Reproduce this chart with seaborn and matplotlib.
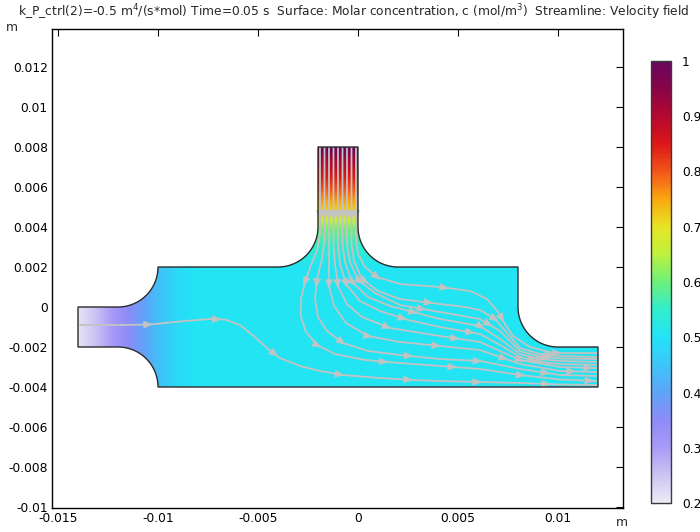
import numpy as np
import pandas as pd
import matplotlib
matplotlib.use("Agg")
import matplotlib.pyplot as plt
import seaborn as sns
from matplotlib.colors import LinearSegmentedColormap
from matplotlib.path import Path
from matplotlib.patches import PathPatch, Polygon

sns.set_theme(style="white")
plt.rcParams["font.family"] = ["DejaVu Sans"]
plt.rcParams["axes.unicode_minus"] = False

# ── data ─────────────────────────────────────────────────────────────────────

# molar concentration along the horizontal channel (x in m)
conc_x = [-0.014, -0.013, -0.012, -0.011, -0.010, -0.009, -0.008, 0.012]
conc_x_val = [0.21, 0.26, 0.32, 0.38, 0.44, 0.485, 0.505, 0.505]

# molar concentration down the vertical inlet (y in m)
conc_y = [0.002, 0.0024, 0.0031, 0.0039, 0.0044, 0.0047, 0.005, 0.0054, 0.0059, 0.0067, 0.0074, 0.008]
conc_y_val = [0.505, 0.52, 0.55, 0.60, 0.66, 0.70, 0.73, 0.76, 0.80, 0.86, 0.92, 1.0]

# colour scale
cmap_stops = [0.2, 0.25, 0.3, 0.35, 0.4, 0.45, 0.5, 0.55, 0.6, 0.65, 0.7, 0.75, 0.8, 0.85, 0.9, 0.95, 1.0]
cmap_colors = ["#ecebf6", "#cbc3f3", "#a899f6", "#8c8cf8", "#5fa4f8", "#3cc6f8", "#22e4f6",
               "#30eece", "#6ef07a", "#bdf23e", "#e8e424", "#f8a810", "#f4561a", "#dc1818",
               "#b6082e", "#8a0448", "#66065c"]

# channel outline: corners and fillet arcs (centre x, centre y, start deg, end deg)
outline = [
    ("pt", -0.014, 0.0), ("pt", -0.012, 0.0),
    ("arc", -0.012, 0.002, -90, 0),
    ("pt", -0.004, 0.002),
    ("arc", -0.004, 0.004, -90, 0),
    ("pt", -0.002, 0.008), ("pt", 0.0, 0.008), ("pt", 0.0, 0.004),
    ("arc", 0.002, 0.004, 180, 270),
    ("pt", 0.008, 0.002), ("pt", 0.008, 0.0),
    ("arc", 0.010, 0.0, 180, 270),
    ("pt", 0.012, -0.002), ("pt", 0.012, -0.004), ("pt", -0.010, -0.004),
    ("arc", -0.012, -0.004, 0, 90),
    ("pt", -0.014, -0.002),
]
FILLET_R = 0.002

# streamlines (mm)
s0_x = [-13.9, -11.9, -10.4, -8.65, -7.4, -6.65, -5.9, -5.15, -4.5, -3.9, -2.9, -1.9, -0.75, 1.1, 2.75, 4.1, 6.1, 8.1, 10.1, 11.95]
s0_y = [-0.9, -0.9, -0.875, -0.7, -0.6, -0.625, -0.9, -1.5, -2.1, -2.55, -2.95, -3.2, -3.4, -3.55, -3.65, -3.7, -3.75, -3.8, -3.875, -3.9]
s1_x = [-1.9, -1.9, -2.05, -2.35, -2.65, -2.85, -2.85, -2.6, -2.05, -1.15, 0.35, 2.1, 4.1, 6.1, 8.1, 10.1, 11.95]
s1_y = [8.0, 3.65, 2.8, 2.1, 1.25, 0.4, -0.5, -1.25, -1.9, -2.35, -2.65, -2.8, -2.95, -3.1, -3.4, -3.625, -3.7]
s2_x = [-1.675, -1.675, -1.8, -2.05, -2.15, -2.0, -1.55, -0.75, 0.5, 2.1, 4.1, 6.1, 8.1, 10.1, 11.95]
s2_y = [8.0, 3.4, 2.4, 1.4, 0.4, -0.5, -1.2, -1.8, -2.2, -2.4, -2.6, -2.7, -3.1, -3.4, -3.45]
s3_x = [-1.45, -1.45, -1.45, -1.45, -1.2, -0.6, 0.5, 2.1, 4.1, 6.1, 8.1, 10.1, 11.95]
s3_y = [8.0, 3.15, 2.15, 1.05, 0.05, -0.8, -1.45, -1.75, -1.95, -2.15, -2.85, -3.2, -3.25]
s4_x = [-1.225, -1.225, -1.15, -1.0, -0.55, 0.2, 1.6, 4.1, 6.1, 7.1, 8.1, 10.1, 11.95]
s4_y = [8.0, 3.15, 2.15, 1.05, 0.15, -0.5, -1.05, -1.45, -1.75, -2.2, -2.65, -3.0, -3.05]
s5_x = [-1.0, -1.0, -0.9, -0.6, 0.1, 1.1, 2.5, 4.1, 6.1, 7.1, 8.1, 9.1, 10.1, 11.95]
s5_y = [8.0, 3.15, 2.15, 1.15, 0.3, -0.2, -0.65, -1.0, -1.35, -1.9, -2.5, -2.75, -2.85, -2.9]
s6_x = [-0.775, -0.775, -0.65, -0.3, 0.5, 1.6, 2.95, 4.1, 6.1, 7.1, 8.1, 9.1, 10.1, 11.95]
s6_y = [8.0, 3.15, 2.25, 1.25, 0.5, 0.05, -0.3, -0.6, -0.95, -1.6, -2.35, -2.6, -2.7, -2.75]
s7_x = [-0.55, -0.55, -0.4, 0.0, 0.85, 2.1, 4.1, 6.1, 7.1, 8.1, 9.1, 10.1, 11.95]
s7_y = [8.0, 3.15, 2.25, 1.35, 0.7, 0.1, -0.25, -0.6, -1.2, -2.2, -2.475, -2.575, -2.6]
s8_x = [-0.325, -0.325, -0.2, 0.2, 1.0, 2.1, 4.1, 5.35, 6.1, 6.85, 7.5, 8.1, 9.1, 10.1, 11.95]
s8_y = [8.0, 3.15, 2.3, 1.4, 0.8, 0.4, 0.15, 0.0, -0.15, -0.6, -1.35, -2.05, -2.35, -2.45, -2.5]
s9_x = [-0.1, -0.1, 0.0, 0.35, 0.95, 2.1, 4.1, 5.6, 6.45, 7.0, 7.35, 7.75, 8.6, 9.75, 11.95]
s9_y = [8.0, 3.4, 2.65, 2.0, 1.5, 1.15, 1.0, 0.8, 0.4, -0.25, -0.85, -1.45, -2.0, -2.3, -2.3]

streams = [(s0_x, s0_y), (s1_x, s1_y), (s2_x, s2_y), (s3_x, s3_y), (s4_x, s4_y),
           (s5_x, s5_y), (s6_x, s6_y), (s7_x, s7_y), (s8_x, s8_y), (s9_x, s9_y)]

x_ticks = [-0.015, -0.01, -0.005, 0, 0.005, 0.01]
x_labels = ["-0.015", "-0.01", "-0.005", "0", "0.005", "0.01"]
y_ticks = [-0.01, -0.008, -0.006, -0.004, -0.002, 0, 0.002, 0.004, 0.006, 0.008, 0.01, 0.012]
y_labels = ["-0.01", "-0.008", "-0.006", "-0.004", "-0.002", "0", "0.002", "0.004",
            "0.006", "0.008", "0.01", "0.012"]
cb_ticks = [0.2, 0.3, 0.4, 0.5, 0.6, 0.7, 0.8, 0.9, 1.0]
cb_labels = ["0.2", "0.3", "0.4", "0.5", "0.6", "0.7", "0.8", "0.9", "1"]

TITLE = ("k_P_ctrl(2)=-0.5 m$^4$/(s*mol) Time=0.05 s  Surface: Molar concentration, "
         "c (mol/m$^3$)  Streamline: Velocity field")

LINE_GREY = "#c3c3c3"
FS = 8.8


def build_outline():
    verts = []
    for item in outline:
        if item[0] == "pt":
            verts.append((item[1], item[2]))
        else:
            _, cx, cy, a0, a1 = item
            ang = np.radians(np.linspace(a0, a1, 40))
            verts.extend(zip(cx + FILLET_R * np.cos(ang), cy + FILLET_R * np.sin(ang)))
    verts.append(verts[0])
    codes = [Path.MOVETO] + [Path.LINETO] * (len(verts) - 2) + [Path.CLOSEPOLY]
    return Path(verts, codes)


def arrow_heads(xs, ys, step=3.45e-3, first=3.4e-3, length=0.45e-3, half=0.18e-3):
    xs, ys = np.asarray(xs), np.asarray(ys)
    seg = np.hypot(np.diff(xs), np.diff(ys))
    s = np.concatenate([[0], np.cumsum(seg)])
    heads = []
    t = first
    while t < s[-1] - 0.3e-3:
        i = min(np.searchsorted(s, t) - 1, len(seg) - 1)
        f = (t - s[i]) / seg[i]
        px = xs[i] + f * (xs[i + 1] - xs[i])
        py = ys[i] + f * (ys[i + 1] - ys[i])
        dx, dy = (xs[i + 1] - xs[i]) / seg[i], (ys[i + 1] - ys[i]) / seg[i]
        tip = (px + dx * length / 2, py + dy * length / 2)
        bx, by = px - dx * length / 2, py - dy * length / 2
        heads.append([tip, (bx - dy * half, by + dx * half), (bx + dy * half, by - dx * half)])
        t += step
    return heads


fig = plt.figure(figsize=(7, 5.32), dpi=100)
ax = fig.add_axes([52 / 700, 1 - 508 / 532, 571 / 700, 479 / 532])

# concentration surface
cmap = LinearSegmentedColormap.from_list(
    "conc", list(zip([(v - 0.2) / 0.8 for v in cmap_stops], cmap_colors)))
gx = np.linspace(-0.0142, 0.0122, 980)
gy = np.linspace(-0.0042, 0.0082, 500)
X, Y = np.meshgrid(gx, gy)
C = np.where(Y > 0.002, np.interp(Y, conc_y, conc_y_val), np.interp(X, conc_x, conc_x_val))
im = ax.imshow(C, extent=[gx[0], gx[-1], gy[0], gy[-1]], origin="lower", cmap=cmap,
               vmin=0.2, vmax=1.0, aspect="auto", interpolation="bilinear", zorder=1)
chan = build_outline()
clip = PathPatch(chan, transform=ax.transData, facecolor="none", edgecolor="none")
ax.add_patch(clip)
im.set_clip_path(clip)

# streamlines
rows = []
for k, (sx, sy) in enumerate(streams):
    for xv, yv in zip(sx, sy):
        rows.append({"line": k, "x": xv * 1e-3, "y": yv * 1e-3})
df = pd.DataFrame(rows)
sns.lineplot(data=df, x="x", y="y", units="line", estimator=None, sort=False,
             color=LINE_GREY, lw=1.3, ax=ax, zorder=3)
for sx, sy in streams:
    for tri in arrow_heads(np.array(sx) * 1e-3, np.array(sy) * 1e-3):
        ax.add_patch(Polygon(tri, closed=True, facecolor=LINE_GREY, edgecolor=LINE_GREY,
                             lw=0.3, zorder=4))

ax.add_patch(PathPatch(chan, facecolor="none", edgecolor="#2b2b2b", lw=1.0, zorder=5))

ax.set_xlim(-0.0153, 0.01325)
ax.set_ylim(-0.01005, 0.0139)
ax.set_xlabel("")
ax.set_ylabel("")
ax.set_xticks(x_ticks)
ax.set_xticklabels(x_labels)
ax.set_yticks(y_ticks)
ax.set_yticklabels(y_labels)
ax.tick_params(direction="in", length=5, width=0.8, top=True, right=True,
               labelsize=FS, colors="black", pad=3)
for sp in ax.spines.values():
    sp.set_visible(True)
    sp.set_color("black")
    sp.set_linewidth(1.0)
ax.set_facecolor("white")

# colour bar
cax = fig.add_axes([651 / 700, 1 - 503 / 532, 20 / 700, 442 / 532])
cb = fig.colorbar(im, cax=cax)
cb.set_ticks(cb_ticks)
cb.set_ticklabels(cb_labels)
cax.tick_params(direction="in", length=4, width=0.8, left=True, right=True,
                labelsize=FS, pad=8, colors="black")
cb.outline.set_edgecolor("#3a3a3a")
cb.outline.set_linewidth(1.0)

fig.text(18 / 700, 1 - 12 / 532, TITLE, fontsize=FS, ha="left", va="center")
fig.text(12 / 700, 1 - 28 / 532, "m", fontsize=FS, ha="center", va="center")
fig.text(622 / 700, 1 - 522 / 532, "m", fontsize=FS, ha="center", va="center")

fig.savefig("out.png", dpi=100)
plt.close(fig)
